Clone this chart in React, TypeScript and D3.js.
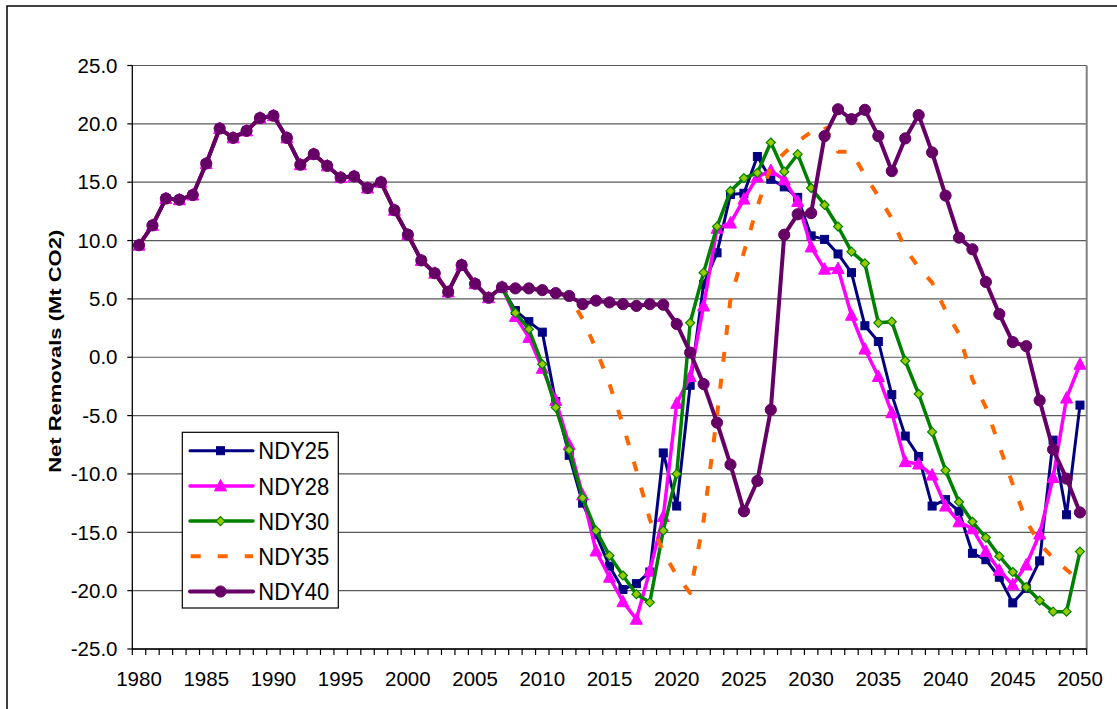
import React from 'react';
import * as d3 from 'd3';

const years: number[] = d3.range(1980, 2051);

// 1980-2007, shared by all scenarios
const history = [9.6, 11.3, 13.6, 13.5, 13.9, 16.6, 19.6, 18.8, 19.4, 20.5, 20.7, 18.8, 16.5, 17.4, 16.4, 15.4, 15.5, 14.5, 15.0, 12.6, 10.5, 8.3, 7.2, 5.6, 7.9, 6.3, 5.1, 6.0];

// 2008-2050
const ndy25Future = [4.0, 3.05, 2.15, -3.8, -8.4, -12.5, -15.2, -17.9, -19.9, -19.4, -18.4, -8.2, -12.75, -2.4, 6.25, 8.95, 13.95, 14.05, 17.2, 15.25, 14.6, 13.7, 10.4, 10.1, 8.85, 7.25, 2.7, 1.35, -3.2, -6.75, -8.5, -12.75, -12.2, -13.2, -16.8, -17.35, -18.85, -21.05, -19.8, -17.45, -7.1, -13.5, -4.1];
const ndy28Future = [3.5, 1.7, -0.95, -3.7, -7.5, -11.8, -16.6, -18.85, -20.95, -22.45, -18.3, -13.65, -3.95, -1.65, 4.4, 11.05, 11.5, 13.55, 15.45, 16.0, 15.2, 13.35, 9.45, 7.55, 7.6, 3.6, 0.7, -1.65, -4.75, -8.95, -9.15, -10.1, -12.75, -14.1, -14.7, -16.65, -18.25, -19.5, -17.8, -15.15, -10.3, -3.5, -0.6];
const ndy30Future = [3.8, 2.4, -0.6, -4.3, -7.95, -12.05, -14.85, -17.0, -18.7, -20.3, -21.0, -14.85, -10.0, 2.95, 7.25, 11.2, 14.25, 15.35, 15.8, 18.4, 15.9, 17.4, 14.5, 13.05, 11.2, 9.05, 8.05, 2.95, 3.05, -0.3, -3.15, -6.4, -9.7, -12.4, -14.1, -15.45, -17.05, -18.4, -19.7, -20.85, -21.8, -21.8, -16.65];
const ndy35Future = [5.9, 5.9, 5.75, 5.6, 5.2, 3.3, 0.7, -2.3, -5.8, -9.7, -13.9, -16.7, -18.7, -20.2, -14.0, -5.0, 5.0, 9.0, 12.9, 16.3, 17.5, 18.5, 19.3, 19.8, 17.6, 17.6, 15.6, 13.8, 11.9, 9.3, 7.7, 6.4, 4.0, 2.0, -1.9, -4.3, -7.6, -10.9, -14.0, -16.0, -17.2, -18.2, -19.2];
const ndy40Future = [5.9, 5.9, 5.75, 5.5, 5.25, 4.55, 4.85, 4.7, 4.55, 4.4, 4.55, 4.5, 2.85, 0.4, -2.3, -5.6, -9.2, -13.2, -10.6, -4.5, 10.5, 12.25, 12.35, 18.95, 21.25, 20.4, 21.2, 18.95, 15.95, 18.75, 20.75, 17.55, 13.85, 10.25, 9.25, 6.45, 3.7, 1.3, 0.95, -3.7, -7.9, -10.4, -13.3];

const seriesNames = ['NDY25', 'NDY28', 'NDY30', 'NDY35', 'NDY40'];
const seriesValues = [
  history.concat(ndy25Future),
  history.concat(ndy28Future),
  history.concat(ndy30Future),
  history.concat(ndy35Future),
  history.concat(ndy40Future),
];
const seriesColors = ['#000080', '#FF00FF', '#008000', '#FF6600', '#660066'];
const seriesMarkers = ['square', 'triangle', 'diamond', 'none', 'circle'];
const seriesWidths = [3, 3.5, 3.5, 4, 4];

const xTickLabels = ['1980', '1985', '1990', '1995', '2000', '2005', '2010', '2015', '2020', '2025', '2030', '2035', '2040', '2045', '2050'];
const yTickValues = [-25, -20, -15, -10, -5, 0, 5, 10, 15, 20, 25];

const FONT = 'Liberation Sans, Arial, Helvetica, sans-serif';

function Marker({ type, cx, cy }: { type: string; cx: number; cy: number }) {
  if (type === 'square') {
    return <rect x={cx - 4} y={cy - 4} width={8} height={8} fill="#000080" stroke="#000080" strokeWidth={1} />;
  }
  if (type === 'triangle') {
    return <polygon points={`${cx},${cy - 6.5} ${cx + 6},${cy + 5} ${cx - 6},${cy + 5}`} fill="#FF00FF" stroke="#FF00FF" strokeWidth={1} />;
  }
  if (type === 'diamond') {
    return <polygon points={`${cx},${cy - 4.5} ${cx + 4.5},${cy} ${cx},${cy + 4.5} ${cx - 4.5},${cy}`} fill="#99CC00" stroke="#008000" strokeWidth={1.2} />;
  }
  if (type === 'circle') {
    return <circle cx={cx} cy={cy} r={5.6} fill="#660066" stroke="#660066" strokeWidth={1} />;
  }
  return null;
}

export default function App() {
  const W = 1117;
  const H = 709;
  const left = 132.3;
  const right = 1086.7;
  const top = 65.5;
  const bottom = 649;

  const x = d3.scaleBand<number>().domain(years).range([left, right]);
  const xc = (yr: number) => (x(yr) as number) + x.bandwidth() / 2;
  const y = d3.scaleLinear().domain([-25, 25]).range([bottom, top]);

  const line = d3
    .line<number>()
    .x((_, i) => xc(years[i]))
    .y((d) => y(d));

  const boundaries = years.map((yr) => x(yr) as number).concat([right]);

  const legendX = 182.3;
  const legendY = 432.3;
  const legendW = 156;
  const legendH = 175.7;
  const rowStart = 450.7;
  const rowStep = 35.2;

  return (
    <svg width={W} height={H} style={{ position: 'absolute', left: 0, top: 0, background: '#fff' }} fontFamily={FONT}>
      <rect x={0} y={0} width={W} height={H} fill="#fff" />
      <rect x={7} y={6} width={1300} height={900} fill="none" stroke="#000" strokeWidth={1.5} />

      {/* gridlines */}
      {yTickValues.map((v) => (
        <line key={`g${v}`} x1={left} x2={right} y1={y(v)} y2={y(v)} stroke="#5a5a5a" strokeWidth={1.2} />
      ))}
      {/* plot border right */}
      <line x1={right} x2={right} y1={top} y2={bottom} stroke="#808080" strokeWidth={2} />

      {/* y axis */}
      <line x1={left} x2={left} y1={top} y2={bottom} stroke="#000" strokeWidth={1.3} />
      {yTickValues.map((v) => (
        <g key={`yt${v}`}>
          <line x1={left - 5} x2={left} y1={y(v)} y2={y(v)} stroke="#000" strokeWidth={1.2} />
          <text x={117.5} y={y(v) + 7.2} textAnchor="end" fontSize={20.5} fill="#000">
            {v.toFixed(1)}
          </text>
        </g>
      ))}

      {/* x axis */}
      <line x1={left} x2={right} y1={bottom} y2={bottom} stroke="#000" strokeWidth={1.3} />
      {boundaries.map((bx, i) => (
        <line key={`xt${i}`} x1={bx} x2={bx} y1={bottom} y2={bottom + 6} stroke="#000" strokeWidth={1.2} />
      ))}
      {xTickLabels.map((lab) => (
        <text key={`xl${lab}`} x={xc(+lab)} y={686} textAnchor="middle" fontSize={20.5} fill="#000">
          {lab}
        </text>
      ))}

      {/* y title */}
      <text
        transform={`translate(61,351.3) rotate(-90)`}
        textAnchor="middle"
        fontSize={16.8}
        fontWeight="bold"
        textLength={243}
        lengthAdjust="spacingAndGlyphs"
        fill="#000"
      >
        Net Removals (Mt CO2)
      </text>

      {/* series */}
      {seriesValues.map((vals, si) => (
        <g key={`s${si}`}>
          <path
            d={line(vals) || ''}
            fill="none"
            stroke={seriesColors[si]}
            strokeWidth={seriesWidths[si]}
            strokeDasharray={seriesMarkers[si] === 'none' ? '10 17' : undefined}
            strokeLinejoin="round"
            strokeLinecap={seriesMarkers[si] === 'none' ? 'butt' : 'round'}
          />
          {vals.map((v, i) => (
            <Marker key={i} type={seriesMarkers[si]} cx={xc(years[i])} cy={y(v)} />
          ))}
        </g>
      ))}

      {/* legend */}
      <rect x={legendX} y={legendY} width={legendW} height={legendH} fill="#fff" stroke="#000" strokeWidth={1.2} />
      {seriesNames.map((name, i) => {
        const cy = rowStart + i * rowStep;
        return (
          <g key={`lg${name}`}>
            <line
              x1={seriesMarkers[i] === 'none' ? 190.7 : 190}
              x2={253}
              y1={cy}
              y2={cy}
              stroke={seriesColors[i]}
              strokeWidth={seriesWidths[i]}
              strokeDasharray={seriesMarkers[i] === 'none' ? '10 17' : undefined}
              strokeLinecap={seriesMarkers[i] === 'none' ? 'butt' : 'round'}
            />
            <Marker type={seriesMarkers[i]} cx={220.5} cy={cy} />
            <text x={258.3} y={cy + 8.6} fontSize={23} textLength={71} lengthAdjust="spacingAndGlyphs" fill="#000">
              {name}
            </text>
          </g>
        );
      })}
    </svg>
  );
}
